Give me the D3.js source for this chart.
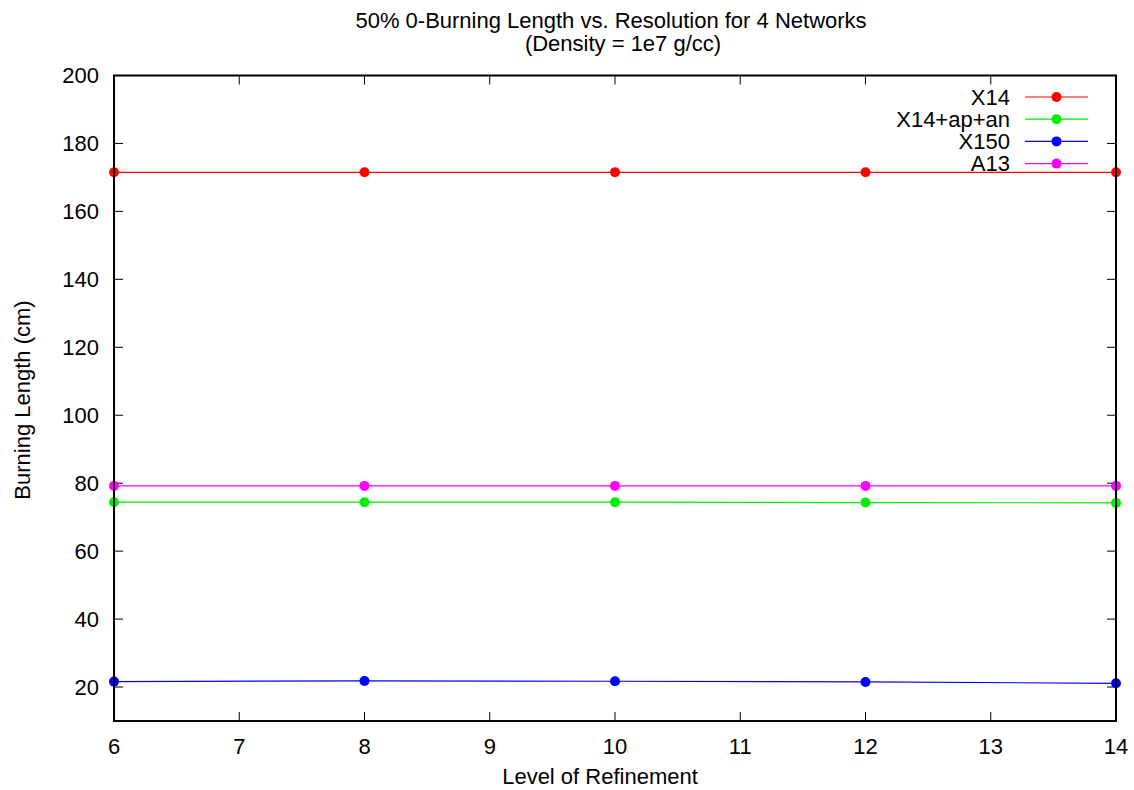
<!DOCTYPE html>
<html><head><meta charset="utf-8">
<script src="https://cdn.jsdelivr.net/npm/d3@7"></script>
<style>body{margin:0;background:#fff}svg{display:block}text{font-family:"Liberation Sans",Arial,sans-serif;fill:#000}</style>
</head><body><svg id="c" width="1134" height="790"></svg>
<script>
const levels = [6, 8, 10, 12, 14];
const seriesNames = ["X14", "X14+ap+an", "X150", "A13"];
const seriesColors = ["#ff0000", "#00ee00", "#0000ff", "#ff00ff"];
const x14 = [171.5, 171.5, 171.5, 171.5, 171.5];
const x14apan = [74.4, 74.4, 74.4, 74.3, 74.2];
const x150 = [21.6, 21.8, 21.7, 21.5, 21.1];
const a13 = [79.2, 79.2, 79.2, 79.2, 79.2];
const xTicks = [6, 7, 8, 9, 10, 11, 12, 13, 14];
const yTicks = [20, 40, 60, 80, 100, 120, 140, 160, 180, 200];
const titleLines = ["50% 0-Burning Length vs. Resolution for 4 Networks", "(Density = 1e7 g/cc)"];

const seriesValues = [x14, x14apan, x150, a13];
const svg = d3.select("#c");
const L = 114, R = 1116, T = 75.5, B = 721;
const x = d3.scaleLinear().domain([6, 14]).range([L, R]);
const y = d3.scaleLinear().domain([10, 200]).range([B, T]);
const fs = 22;

// ticks (inward, mirrored)
const tl = 9;
const g = svg.append("g");
g.selectAll(".yt").data(yTicks).enter().append("path")
  .attr("d", d => `M${L},${y(d)}h${tl}M${R},${y(d)}h${-tl}`).attr("stroke", "#000").attr("stroke-width", 1);
g.selectAll(".xt").data(xTicks).enter().append("path")
  .attr("d", d => `M${x(d)},${B}v${-tl}M${x(d)},${T}v${tl}`).attr("stroke", "#000").attr("stroke-width", 1);
g.selectAll(".yl").data(yTicks).enter().append("text")
  .attr("x", L - 15).attr("y", d => y(d)).attr("dy", "0.35em").attr("text-anchor", "end")
  .attr("font-size", fs).text(d => d);
g.selectAll(".xl").data(xTicks).enter().append("text")
  .attr("x", d => x(d)).attr("y", B + 25).attr("dy", "0.35em").attr("text-anchor", "middle")
  .attr("font-size", fs).text(d => d);

// series
const line = d3.line().x((d, i) => x(levels[i])).y(d => y(d));
seriesValues.forEach((vals, si) => {
  svg.append("path").attr("d", line(vals)).attr("fill", "none")
    .attr("stroke", seriesColors[si]).attr("stroke-width", 1.2);
});
seriesValues.forEach((vals, si) => {
  svg.selectAll(null).data(vals).enter().append("circle")
    .attr("cx", (d, i) => x(levels[i])).attr("cy", d => y(d)).attr("r", 5)
    .attr("fill", seriesColors[si]);
});

// frame
svg.append("rect").attr("x", L).attr("y", T).attr("width", R - L).attr("height", B - T)
  .attr("fill", "none").attr("stroke", "#000").attr("stroke-width", 2);

// legend
seriesNames.forEach((n, i) => {
  const ly = 97 + i * 22.2;
  svg.append("text").attr("x", 1010).attr("y", ly).attr("dy", "0.35em").attr("text-anchor", "end")
    .attr("font-size", fs).text(n);
  svg.append("line").attr("x1", 1025).attr("x2", 1088).attr("y1", ly).attr("y2", ly)
    .attr("stroke", seriesColors[i]).attr("stroke-width", 1.2);
  svg.append("circle").attr("cx", 1056.5).attr("cy", ly).attr("r", 5).attr("fill", seriesColors[i]);
});

// titles
svg.append("text").attr("x", 611).attr("y", 20).attr("dy", "0.35em").attr("text-anchor", "middle")
  .attr("font-size", fs).text(titleLines[0]);
svg.append("text").attr("x", 623).attr("y", 43).attr("dy", "0.35em").attr("text-anchor", "middle")
  .attr("font-size", fs).text(titleLines[1]);
svg.append("text").attr("x", 600).attr("y", 776).attr("dy", "0.35em").attr("text-anchor", "middle")
  .attr("font-size", fs).text("Level of Refinement");
svg.append("text").attr("transform", "translate(22,400) rotate(-90)").attr("dy", "0.35em")
  .attr("text-anchor", "middle").attr("font-size", fs).text("Burning Length (cm)");
</script></body></html>
